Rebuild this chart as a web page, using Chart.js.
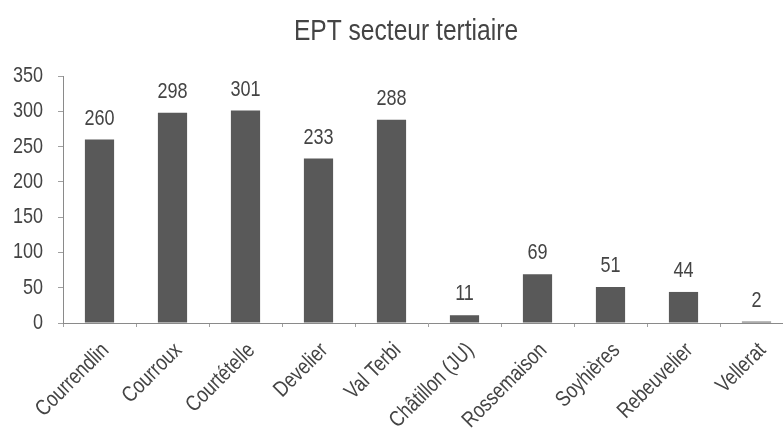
<!DOCTYPE html>
<html>
<head>
<meta charset="utf-8">
<script src="https://cdn.jsdelivr.net/npm/chart.js@4"></script>
<style>
  html, body { margin: 0; padding: 0; background: #fff; overflow: hidden; }
  #wrap { width: 800px; height: 430px; }
</style>
</head>
<body>
<div id="wrap"><canvas id="chart" width="800" height="430"></canvas></div>
<script>
const communes = ["Courrendlin", "Courroux", "Courtételle", "Develier", "Val Terbi",
  "Châtillon (JU)", "Rossemaison", "Soyhières", "Rebeuvelier", "Vellerat"]
const eptTertiaire = [260, 298, 301, 233, 288, 11, 69, 51, 44, 2]
const chartTitle = "EPT secteur tertiaire"
const yMax = 350
const yStep = 50

// no narrow font installed, so squeeze Liberation Sans horizontally
const FONT = '"Liberation Sans", Arial, sans-serif'
const SQUEEZE = 0.82
const TEXT = '#444444'

function narrowText(ctx, text, x, y, size, align, baseline, angle) {
  ctx.save()
  ctx.translate(x, y)
  if (angle) ctx.rotate(angle)
  ctx.scale(SQUEEZE, 1)
  ctx.font = size + 'px ' + FONT
  ctx.fillStyle = TEXT
  ctx.textAlign = align
  ctx.textBaseline = baseline
  ctx.fillText(text, 0, 0)
  ctx.restore()
}

// title, axis labels and value labels, all placed from the chart's scales
const narrowLabels = {
  id: 'narrowLabels',
  afterDraw(chart) {
    const ctx = chart.ctx
    const x = chart.scales.x
    const y = chart.scales.y
    const area = chart.chartArea

    narrowText(ctx, chartTitle, 406, 40, 30, 'center', 'alphabetic')

    y.ticks.forEach(t => {
      narrowText(ctx, String(t.value), area.left - 20, y.getPixelForValue(t.value), 22, 'right', 'middle')
    })

    communes.forEach((name, i) => {
      const px = x.getPixelForValue(i)
      narrowText(ctx, name, px + 6, area.bottom + 24, 22, 'right', 'middle', -Math.PI / 4)
    })

    const meta = chart.getDatasetMeta(0)
    meta.data.forEach((bar, i) => {
      narrowText(ctx, String(eptTertiaire[i]), bar.x, bar.y - 15, 22, 'center', 'alphabetic')
    })
  }
}

new Chart(document.getElementById('chart'), {
  type: 'bar',
  data: {
    labels: communes,
    datasets: [{
      data: eptTertiaire,
      backgroundColor: '#595959',
      borderWidth: 0,
      barPercentage: 0.4,
      categoryPercentage: 1
    }]
  },
  options: {
    responsive: false,
    animation: false,
    layout: { padding: { left: 0, right: 7, top: 76, bottom: 0 } },
    plugins: {
      legend: { display: false },
      tooltip: { enabled: false },
      title: { display: false }
    },
    scales: {
      x: {
        offset: true,
        border: { color: '#8a8a8a', width: 1 },
        grid: { display: true, offset: true, drawOnChartArea: false, drawTicks: true, tickLength: 4, color: '#a0a0a0' },
        ticks: { display: false, autoSkip: false },
        afterFit(scale) { scale.height = 107 }
      },
      y: {
        min: 0,
        max: yMax,
        border: { color: '#8a8a8a', width: 1 },
        grid: { display: true, drawOnChartArea: false, drawTicks: true, tickLength: 5, color: '#a0a0a0' },
        ticks: { display: false, stepSize: yStep },
        afterFit(scale) { scale.width = 63 }
      }
    }
  },
  plugins: [narrowLabels]
})
</script>
</body>
</html>
